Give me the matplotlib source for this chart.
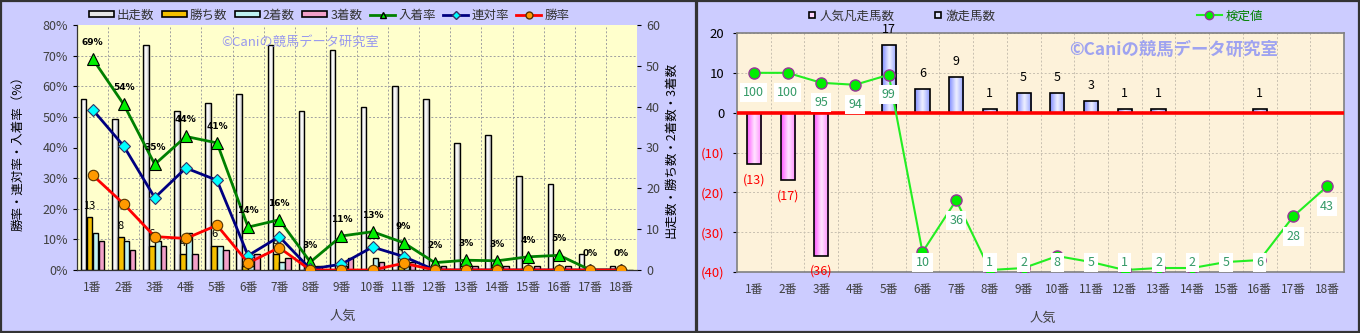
import numpy as np
import matplotlib
matplotlib.use("Agg")
import matplotlib.pyplot as plt
from matplotlib.colors import LinearSegmentedColormap
from matplotlib.lines import Line2D
from matplotlib.patches import Rectangle
from matplotlib.ticker import FixedLocator

plt.rcParams["font.family"] = ["Noto Sans CJK JP", "DejaVu Sans"]

RANKS = [f"{i}番" for i in range(1, 19)]

# left panel: counts
STARTS = [42, 37, 55, 39, 41, 43, 55, 39, 54, 40, 45, 42, 31, 33, 23, 21, 4, 1]
WINS = [13, 8, 6, 4, 6, 1, 4, 0, 0, 0, 1, 0, 0, 0, 0, 0, 0, 0]
SECONDS = [9, 7, 7, 9, 6, 1, 2, 0, 1, 3, 1, 0, 0, 0, 0, 0, 0, 0]
THIRDS = [7, 5, 6, 4, 5, 4, 3, 1, 3, 2, 2, 1, 1, 1, 1, 1, 0, 0]

# left panel: rates (%)
PLACE_RATE = [69.0, 54.1, 34.5, 43.6, 41.5, 14.0, 16.4, 2.6, 11.1, 12.5, 8.9, 2.4, 3.2, 3.0, 4.3, 4.8, 0, 0]
PLACE_LABELS = [69, 54, 35, 44, 41, 14, 16, 3, 11, 13, 9, 2, 3, 3, 4, 5, 0, 0]
QUINELLA_RATE = [52.4, 40.5, 23.6, 33.3, 29.3, 4.7, 10.9, 0.3, 1.9, 7.5, 4.4, 0, 0, 0, 0, 0, 0, 0]
WIN_RATE = [31.0, 21.6, 10.9, 10.3, 14.6, 2.3, 7.3, 0, 0, 0, 2.2, 0, 0, 0, 0, 0, 0, 0]

# right panel
POPULAR_FAIL = [13, 17, 36, 0, 0, 0, 0, 0, 0, 0, 0, 0, 0, 0, 0, 0, 0, 0]
UPSETS = [0, 0, 0, 0, 17, 6, 9, 1, 5, 5, 3, 1, 1, 0, 0, 1, 0, 0]
TEST_VALUE = [100, 100, 95, 94, 99, 10, 36, 1, 2, 8, 5, 1, 2, 2, 5, 6, 28, 43]

FIG_BG = "#CCCCFF"
TICK_C = "#404040"
WATERMARK = "©Caniの競馬データ研究室"


def gradient_bars(ax, bars, colors, zorder=2.0):
    cmap = LinearSegmentedColormap.from_list("grad", colors)
    grad = np.linspace(0, 1, 64).reshape(1, -1)
    for bar in bars:
        x, y = bar.get_x(), bar.get_y()
        w, h = bar.get_width(), bar.get_height()
        if h == 0:
            bar.set_visible(False)
            continue
        im = ax.imshow(grad, cmap=cmap, aspect="auto", interpolation="bicubic",
                       extent=(x, x + w, min(y, y + h), max(y, y + h)), zorder=zorder)
        im.set_clip_path(bar)
        bar.set_facecolor("none")


fig = plt.figure(figsize=(13.6, 3.33), dpi=100, facecolor=FIG_BG)
fig.patches.append(Rectangle((0.001, 0.003), 695 / 1360, 0.994, transform=fig.transFigure,
                             fill=False, edgecolor="#333333", linewidth=1.6))
fig.patches.append(Rectangle((697 / 1360, 0.003), 662 / 1360, 0.994, transform=fig.transFigure,
                             fill=False, edgecolor="#333333", linewidth=1.6))

# ---------------- left panel ----------------
x = np.arange(len(RANKS))
axc = fig.add_axes([77 / 1360, 63 / 333, 560 / 1360, 245 / 333])
axc.set_facecolor("#FFFFCC")
axp = axc.twinx()

w = 0.18
step = 0.19
b_st = axc.bar(x - 1.5 * step, STARTS, w, edgecolor="black", linewidth=1.0, zorder=3)
gradient_bars(axc, b_st, ["#9a9a9a", "#ffffff", "#f4f4f4", "#b0b0b0"], zorder=2.5)
axc.bar(x - 0.5 * step, WINS, w, color="#F5C000", edgecolor="black", linewidth=1.0, zorder=3)
axc.bar(x + 0.5 * step, SECONDS, w, color="#BFF2F2", edgecolor="black", linewidth=1.0, zorder=3)
axc.bar(x + 1.5 * step, THIRDS, w, color="#F2A0C8", edgecolor="black", linewidth=1.0, zorder=3)
for xi, v in zip(x, WINS):
    if v > 0:
        axc.annotate(str(v), (xi - 0.5 * step, v), xytext=(0, 8), textcoords="offset points",
                     ha="center", va="center", fontsize=8, color="black", zorder=4)

axc.set_xlim(-0.5, len(RANKS) - 0.5)
axc.set_ylim(0, 60)
axc.yaxis.tick_right()
axc.set_yticks(range(0, 61, 10))
axc.yaxis.set_minor_locator(FixedLocator(np.arange(7.5, 60, 7.5)))
axc.set_xticks(x, RANKS)
axc.xaxis.set_minor_locator(FixedLocator(np.arange(0.5, len(RANKS) - 0.5, 1)))
axc.tick_params(axis="y", which="minor", length=0)
axc.tick_params(axis="x", which="both", length=0, labelsize=8.5, labelcolor=TICK_C, pad=8)
axc.tick_params(axis="y", which="major", length=3, labelsize=9, labelcolor=TICK_C)
axc.grid(True, which="minor", color="#a0a0a0", linestyle=(0, (2, 2)), linewidth=0.7)
axc.set_axisbelow(True)

axp.yaxis.tick_left()
axp.plot(x, PLACE_RATE, color="#008000", linewidth=2, marker="^", markersize=9,
         markerfacecolor="#00EE00", markeredgecolor="black", markeredgewidth=0.8, zorder=5)
axp.plot(x, QUINELLA_RATE, color="#000080", linewidth=2, marker="D", markersize=6,
         markerfacecolor="#00FFFF", markeredgecolor="#333366", markeredgewidth=0.8, zorder=6)
axp.plot(x, WIN_RATE, color="#FF0000", linewidth=2, marker="o", markersize=7.5,
         markerfacecolor="#FF9900", markeredgecolor="#553300", markeredgewidth=0.8, zorder=7)
for xi, v, lab in zip(x, PLACE_RATE, PLACE_LABELS):
    axp.annotate(f"{lab}%", (xi, v), xytext=(0, 12), textcoords="offset points",
                 ha="center", va="center", fontsize=6.5, fontweight="bold", color="black",
                 family="DejaVu Sans", zorder=8)
axp.set_ylim(0, 80)
axp.set_yticks(range(0, 81, 10), [f"{v}%" for v in range(0, 81, 10)])
axp.tick_params(axis="y", length=3, labelsize=9, labelcolor=TICK_C)
for sp in ["top", "right"]:
    axc.spines[sp].set_visible(False)
    axp.spines[sp].set_visible(False)
axp.spines["left"].set_color("#333333")
axp.spines["bottom"].set_color("#333333")

fig.text(300 / 1360, 1 - 42 / 333, WATERMARK, ha="center", va="center", fontsize=9.5,
         color="#9999EE")
fig.text(18 / 1360, 1 - 150 / 333, "勝率・連対率・入着率（%）", rotation=90, ha="center",
         va="center", fontsize=9, color="black")
fig.text(671 / 1360, 1 - 150 / 333, "出走数・勝ち数・2着数・3着数", rotation=90, ha="center",
         va="center", fontsize=9, color="black")
fig.text(343 / 1360, 1 - 316 / 333, "人気", ha="center", va="center", fontsize=9.5,
         color=TICK_C)

bar_handle = dict(edgecolor="black", linewidth=1.2)
handles_l = [
    Rectangle((0, 0), 1, 1, facecolor="#e6e6e6", **bar_handle),
    Rectangle((0, 0), 1, 1, facecolor="#F5C000", **bar_handle),
    Rectangle((0, 0), 1, 1, facecolor="#BFF2F2", **bar_handle),
    Rectangle((0, 0), 1, 1, facecolor="#F2A0C8", **bar_handle),
    Line2D([], [], color="#008000", lw=2, marker="^", markersize=5,
           markerfacecolor="#00EE00", markeredgecolor="black"),
    Line2D([], [], color="#000080", lw=2, marker="D", markersize=4,
           markerfacecolor="#00FFFF", markeredgecolor="#333366"),
    Line2D([], [], color="#FF0000", lw=2, marker="o", markersize=5,
           markerfacecolor="#FF9900", markeredgecolor="#553300"),
]
labels_l = ["出走数", "勝ち数", "2着数", "3着数", "入着率", "連対率", "勝率"]
fig.legend(handles_l, labels_l, loc="center", bbox_to_anchor=(329 / 1360, 1 - 15 / 333),
           ncol=7, frameon=False, fontsize=9, handlelength=2.0, handleheight=0.45,
           handletextpad=0.25, columnspacing=0.6, labelcolor="#333333")

# ---------------- right panel ----------------
axr = fig.add_axes([737 / 1360, 61 / 333, 607 / 1360, 239 / 333])
axr.set_facecolor("#FDF2DA")
neg = -np.array(POPULAR_FAIL)
b_neg = axr.bar(x, neg, 0.42, edgecolor="black", linewidth=1.2, zorder=3)
gradient_bars(axr, b_neg, ["#ff55ff", "#ffe6ff", "#ff88ff"], zorder=2.5)
b_pos = axr.bar(x, UPSETS, 0.42, edgecolor="black", linewidth=1.2, zorder=3)
gradient_bars(axr, b_pos, ["#7f8cff", "#f0f2ff", "#8f9cff"], zorder=2.5)
axr.axhline(0, color="#FF0000", linewidth=2.6, zorder=3.5)
for xi, v in zip(x, UPSETS):
    if v > 0:
        axr.annotate(str(v), (xi, v), xytext=(0, 11), textcoords="offset points",
                     ha="center", va="center", fontsize=9, color="black", zorder=4)
for xi, v in zip(x, POPULAR_FAIL):
    if v > 0:
        axr.annotate(f"({v})", (xi, -v), xytext=(0, -11), textcoords="offset points",
                     ha="center", va="center", fontsize=9, color="#FF0000", zorder=4)

axr.set_xlim(-0.5, len(RANKS) - 0.5)
axr.set_ylim(-40, 20)
yt = list(range(-40, 21, 10))
axr.set_yticks(yt, [f"({-v})" if v < 0 else str(v) for v in yt])
for lbl, v in zip(axr.get_yticklabels(), yt):
    lbl.set_color("#FF0000" if v < 0 else "black")
axr.set_xticks(x, RANKS)
axr.xaxis.set_minor_locator(FixedLocator(np.arange(0.5, len(RANKS) - 0.5, 1)))
axr.tick_params(axis="x", which="both", length=0, labelsize=8.5, labelcolor=TICK_C, pad=8)
axr.tick_params(axis="y", length=3, labelsize=9.5, pad=6)
axr.grid(True, which="major", axis="y", color="#c8c0b0", linestyle=(0, (2, 2)), linewidth=0.7)
axr.grid(True, which="minor", axis="x", color="#c8c0b0", linestyle=(0, (2, 2)), linewidth=0.7)
axr.set_axisbelow(True)
for sp in axr.spines.values():
    sp.set_color("#808080")
    sp.set_linewidth(1.2)

axt = axr.twinx()
axt.set_ylim(0, 120)
axt.axis("off")
axt.plot(x, TEST_VALUE, color="#22EE22", linewidth=1.5, marker="o", markersize=8,
         markerfacecolor="#00EE00", markeredgecolor="#993399", markeredgewidth=1.0, zorder=5)
for xi, v in zip(x, TEST_VALUE):
    ly = max(v - 10, 4.7)
    axt.text(xi, ly, str(v), ha="center", va="center", fontsize=9, color="#339966", zorder=6,
             bbox=dict(boxstyle="square,pad=0.25", facecolor="white", edgecolor="none"))

fig.text(1174 / 1360, 1 - 50 / 333, WATERMARK, ha="center", va="center", fontsize=12.5,
         fontweight="bold", color="#9FA3F0")
fig.text(1043 / 1360, 1 - 318 / 333, "人気", ha="center", va="center", fontsize=9.5,
         color=TICK_C)

handles_r = [
    Line2D([], [], linestyle="none", marker="s", markersize=5, markerfacecolor="#ffd6ff",
           markeredgecolor="black", markeredgewidth=1.2),
    Line2D([], [], linestyle="none", marker="s", markersize=5, markerfacecolor="#e0e4ff",
           markeredgecolor="black", markeredgewidth=1.2),
]
fig.legend(handles_r, ["人気凡走馬数", "激走馬数"], loc="center",
           bbox_to_anchor=(902 / 1360, 1 - 16 / 333), ncol=2, frameon=False, fontsize=9,
           handlelength=0.6, handletextpad=0.3, columnspacing=3.2, labelcolor="#333333")
fig.legend([Line2D([], [], color="#22EE22", lw=1.5, marker="o", markersize=6,
                   markerfacecolor="#00EE00", markeredgecolor="#993399")],
           ["検定値"], loc="center", bbox_to_anchor=(1230 / 1360, 1 - 16 / 333),
           frameon=False, fontsize=9, handlelength=2.0, handletextpad=0.3,
           labelcolor="#008000")

fig.savefig("out.png", dpi=100, facecolor=FIG_BG)
